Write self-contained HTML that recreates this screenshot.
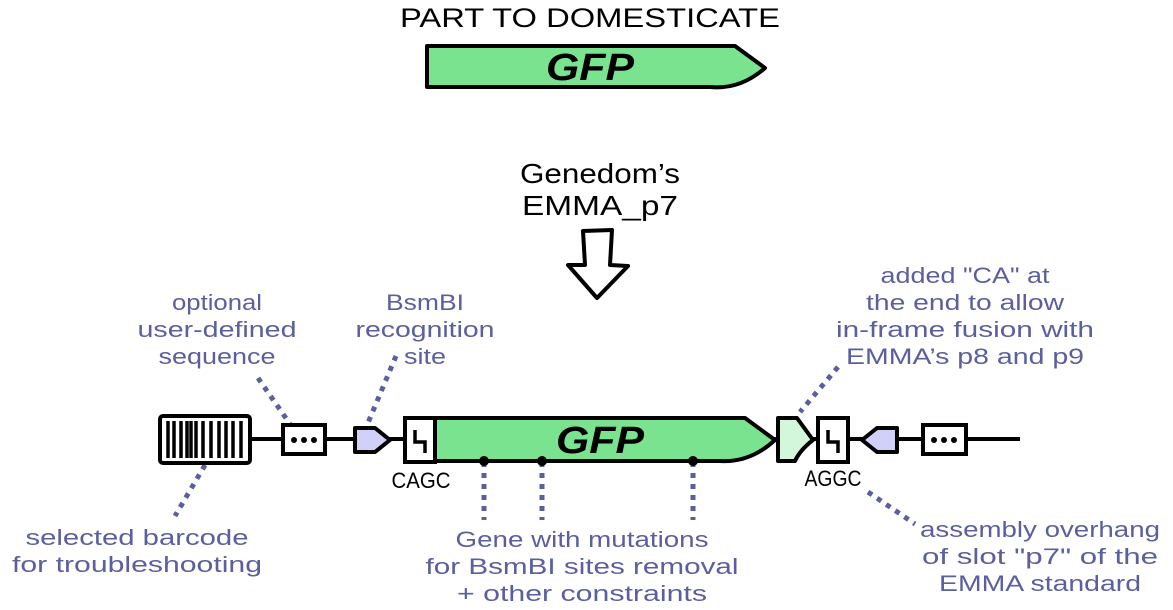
<!DOCTYPE html>
<html><head><meta charset="utf-8"><style>
html,body{margin:0;padding:0;background:#fff;width:1173px;height:610px;overflow:hidden}
svg{display:block}
.l{font-family:"Liberation Sans",sans-serif;fill:#5b5f9e;font-size:22px;text-anchor:middle}
.k{font-family:"Liberation Sans",sans-serif;fill:#000;text-anchor:middle}
</style></head><body>
<svg width="1173" height="610" viewBox="0 0 1173 610">
<text class="k" x="590" y="27" font-size="27" textLength="380" lengthAdjust="spacingAndGlyphs">PART TO DOMESTICATE</text>
<path d="M427 46 L735 46 L765 68 Q740 90 710 87 L427 87 Z" fill="#7ae38f" stroke="#000" stroke-width="4" stroke-linejoin="round"/>
<text class="k" x="590" y="80" font-size="38" font-weight="bold" font-style="italic" textLength="88" lengthAdjust="spacingAndGlyphs">GFP</text>
<text class="k" x="600" y="183" font-size="28" textLength="160" lengthAdjust="spacingAndGlyphs">Genedom’s</text>
<text class="k" x="600" y="215" font-size="28" textLength="156" lengthAdjust="spacingAndGlyphs">EMMA_p7</text>
<path d="M583 231 L612 230 L610 265 L628 266 L597 298 L568 265 L585 265 Z" fill="#fff" stroke="#000" stroke-width="4" stroke-linejoin="round"/>
<g stroke="#5b5f9e" stroke-width="5" stroke-dasharray="5 6" fill="none">
<line x1="258" y1="378" x2="290" y2="424"/>
<line x1="396" y1="356" x2="365" y2="430"/>
<line x1="205" y1="465" x2="175" y2="516"/>
<line x1="484" y1="462" x2="484" y2="520"/>
<line x1="542" y1="462" x2="542" y2="520"/>
<line x1="693" y1="462" x2="693" y2="520"/>
<line x1="838" y1="367" x2="800" y2="412"/>
<line x1="868" y1="492" x2="915" y2="524"/>
</g>
<line x1="250" y1="439" x2="1020" y2="439" stroke="#000" stroke-width="4"/>
<rect x="160" y="416" width="90" height="47" rx="3" fill="#fff" stroke="#000" stroke-width="4"/>
<g stroke="#000" stroke-width="3.5">
<line x1="168" y1="421" x2="168" y2="458"/><line x1="174" y1="421" x2="174" y2="458"/><line x1="181" y1="421" x2="181" y2="458"/><line x1="187" y1="421" x2="187" y2="458"/><line x1="191" y1="421" x2="191" y2="458"/><line x1="196" y1="421" x2="196" y2="458"/><line x1="203" y1="421" x2="203" y2="458"/><line x1="211" y1="421" x2="211" y2="458"/><line x1="219" y1="421" x2="219" y2="458"/><line x1="226" y1="421" x2="226" y2="458"/><line x1="233" y1="421" x2="233" y2="458"/><line x1="241" y1="421" x2="241" y2="458"/>
</g>
<rect x="283" y="425" width="42" height="29" fill="#fff" stroke="#000" stroke-width="4"/>
<circle cx="294" cy="440" r="3"/><circle cx="304" cy="440" r="3"/><circle cx="314" cy="440" r="3"/>
<path d="M355 428 L375 428 L390 440 L375 452 L355 452 Z" fill="#d0d0f8" stroke="#000" stroke-width="4" stroke-linejoin="round"/>
<path d="M435 418 L745 418 L775 440 Q750 463 720 461 L435 461 Z" fill="#7ae38f" stroke="#000" stroke-width="4" stroke-linejoin="round"/>
<text class="k" x="600" y="453" font-size="38" font-weight="bold" font-style="italic" textLength="88" lengthAdjust="spacingAndGlyphs">GFP</text>
<rect x="405" y="418" width="30" height="44" fill="#fff" stroke="#000" stroke-width="4"/>
<path d="M415 430 L415 442 L425 442 L425 453" stroke="#000" stroke-width="3.5" fill="none"/>
<text class="k" x="421" y="488" font-size="22" textLength="59" lengthAdjust="spacingAndGlyphs">CAGC</text>
<circle cx="484" cy="461" r="5"/><circle cx="542" cy="461" r="5"/><circle cx="693" cy="461" r="5"/>
<path d="M778 418 L797 418 L813 440 Q800 450 795 461 L778 461 Z" fill="#d2f7da" stroke="#000" stroke-width="4" stroke-linejoin="round"/>
<rect x="818" y="418" width="30" height="44" fill="#fff" stroke="#000" stroke-width="4"/>
<path d="M828 430 L828 442 L838 442 L838 453" stroke="#000" stroke-width="3.5" fill="none"/>
<text class="k" x="833" y="486" font-size="22" textLength="57" lengthAdjust="spacingAndGlyphs">AGGC</text>
<path d="M897 428 L877 428 L862 440 L877 452 L897 452 Z" fill="#d0d0f8" stroke="#000" stroke-width="4" stroke-linejoin="round"/>
<rect x="923" y="425" width="43" height="29" fill="#fff" stroke="#000" stroke-width="4"/>
<circle cx="934" cy="440" r="3"/><circle cx="944" cy="440" r="3"/><circle cx="954" cy="440" r="3"/>
<text class="l" x="217" y="310" textLength="90" lengthAdjust="spacingAndGlyphs">optional</text>
<text class="l" x="217" y="337" textLength="159" lengthAdjust="spacingAndGlyphs">user-defined</text>
<text class="l" x="217" y="364" textLength="117" lengthAdjust="spacingAndGlyphs">sequence</text>
<text class="l" x="425" y="310" textLength="78" lengthAdjust="spacingAndGlyphs">BsmBI</text>
<text class="l" x="425" y="337" textLength="139" lengthAdjust="spacingAndGlyphs">recognition</text>
<text class="l" x="425" y="364" textLength="42" lengthAdjust="spacingAndGlyphs">site</text>
<text class="l" x="965" y="283" textLength="169" lengthAdjust="spacingAndGlyphs">added "CA" at</text>
<text class="l" x="965" y="310" textLength="198" lengthAdjust="spacingAndGlyphs">the end to allow</text>
<text class="l" x="965" y="337" textLength="258" lengthAdjust="spacingAndGlyphs">in-frame fusion with</text>
<text class="l" x="965" y="364" textLength="238" lengthAdjust="spacingAndGlyphs">EMMA’s p8 and p9</text>
<text class="l" x="137" y="545" textLength="223" lengthAdjust="spacingAndGlyphs">selected barcode</text>
<text class="l" x="137" y="572" textLength="250" lengthAdjust="spacingAndGlyphs">for troubleshooting</text>
<text class="l" x="582" y="547" textLength="253" lengthAdjust="spacingAndGlyphs">Gene with mutations</text>
<text class="l" x="582" y="574" textLength="313" lengthAdjust="spacingAndGlyphs">for BsmBI sites removal</text>
<text class="l" x="582" y="601" textLength="250" lengthAdjust="spacingAndGlyphs">+ other constraints</text>
<text class="l" x="1040" y="537" textLength="240" lengthAdjust="spacingAndGlyphs">assembly overhang</text>
<text class="l" x="1040" y="564" textLength="236" lengthAdjust="spacingAndGlyphs">of slot "p7" of the</text>
<text class="l" x="1040" y="591" textLength="202" lengthAdjust="spacingAndGlyphs">EMMA standard</text>
</svg>
</body></html>
